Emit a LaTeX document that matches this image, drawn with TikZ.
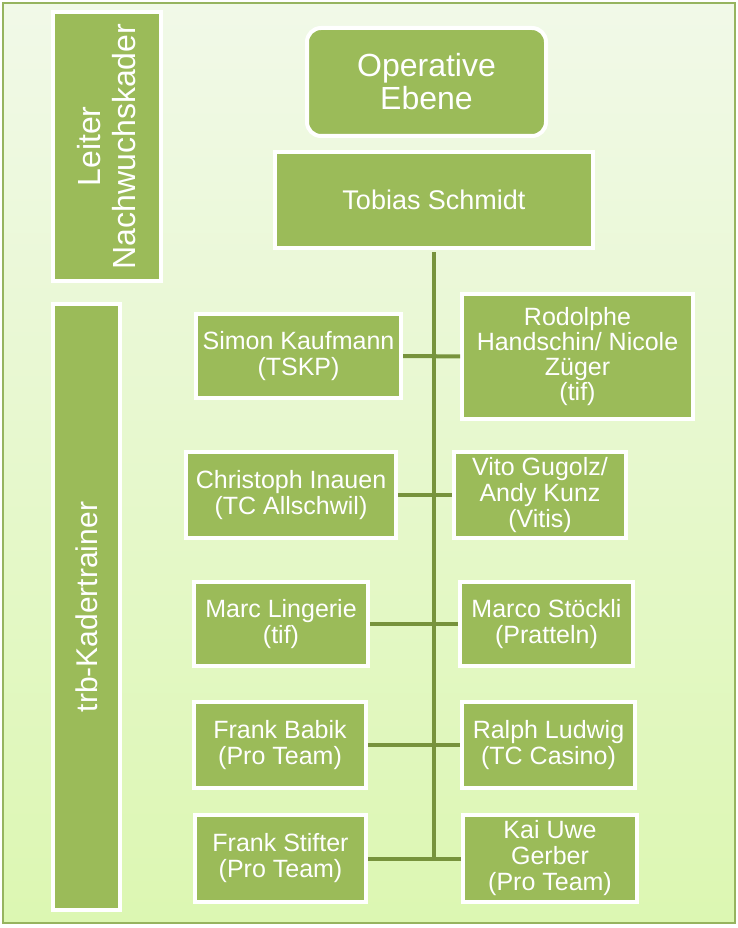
\documentclass[tikz,border=0pt]{standalone}
\usepackage{fontspec}
\setmainfont{Liberation Sans}
\usepackage{tikz}
\usetikzlibrary{calc}

\begin{document}
\begin{tikzpicture}[x=1pt, y=-1pt,
 every text node part/.style={align=center},
box/.style={rectangle, inner sep=0pt, fill=boxfill, draw=white, line width=4pt, text=white, font=\fontsize{25}{26}\selectfont},
sidebox/.style={box, rotate=90},
conn/.style={draw=connline, line width=4pt}]

    \definecolor{boxfill}{RGB}{155,187,89}
    \definecolor{connline}{RGB}{119,147,60}
    \definecolor{bgtop}{RGB}{241,249,232}
    \definecolor{bgbot}{RGB}{220,247,178}
    \definecolor{frameline}{RGB}{150,180,95}

	\useasboundingbox (0,0) rectangle (738,928);
	\node[rectangle, inner sep=0pt, minimum width=732pt, minimum height=920pt, top color=bgtop, bottom color=bgbot, draw=frameline, line width=2pt] (frame) at (369,463) {};

	\node[sidebox, minimum width=269pt, minimum height=108pt, font=\fontsize{32}{35}\selectfont] (leiter) at (107,146.5) {Leiter\\ Nachwuchskader};
	\node[sidebox, minimum width=606pt, minimum height=67pt, font=\fontsize{30}{32}\selectfont] (trb) at (86.5,607) {trb-Kadertrainer};

	\node[box, minimum width=239pt, minimum height=108pt, rounded corners=14pt, font=\fontsize{32}{33}\selectfont] (ope) at (426.5,82) {Operative\\ Ebene};
	\node[box, minimum width=318pt, minimum height=96pt, font=\fontsize{27}{29}\selectfont] (tobias) at (434,200) {Tobias Schmidt};

	\node[box, minimum width=205pt, minimum height=84pt] (simon) at (298.5,356) {Simon Kaufmann\\ (TSKP)};
	\node[box, minimum width=231pt, minimum height=125pt, font=\fontsize{25}{25}\selectfont] (rodolphe) at (577.5,356.5) {Rodolphe\\ Handschin/ Nicole\\ Züger\\ (tif)};
	\node[box, minimum width=210pt, minimum height=86pt] (christoph) at (291,495) {Christoph Inauen\\ (TC Allschwil)};
	\node[box, minimum width=172pt, minimum height=86pt] (vito) at (540,495) {Vito Gugolz/\\ Andy Kunz\\ (Vitis)};
	\node[box, minimum width=174pt, minimum height=84pt] (marc) at (281,624) {Marc Lingerie\\ (tif)};
	\node[box, minimum width=173pt, minimum height=84pt] (marco) at (546.5,624) {Marco Stöckli\\ (Pratteln)};
	\node[box, minimum width=172pt, minimum height=86pt] (babik) at (280,745) {Frank Babik\\ (Pro Team)};
	\node[box, minimum width=173pt, minimum height=86pt] (ralph) at (548.5,745) {Ralph Ludwig\\ (TC Casino)};
	\node[box, minimum width=171pt, minimum height=87pt] (stifter) at (280.5,858.5) {Frank Stifter\\ (Pro Team)};
	\node[box, minimum width=174pt, minimum height=87pt] (kai) at (550,858.5) {Kai Uwe\\ Gerber\\ (Pro Team)};

	\coordinate (trunkend) at (tobias.south |- stifter.east);
	\draw[conn] ($(tobias.south)+(0,2)$) -- ($(trunkend)+(0,2)$);
	\draw[conn] (simon) -- (rodolphe);
	\draw[conn] (christoph) -- (vito);
	\draw[conn] (marc) -- (marco);
	\draw[conn] (babik) -- (ralph);
	\draw[conn] (stifter) -- (kai);
\end{tikzpicture}
\end{document}
